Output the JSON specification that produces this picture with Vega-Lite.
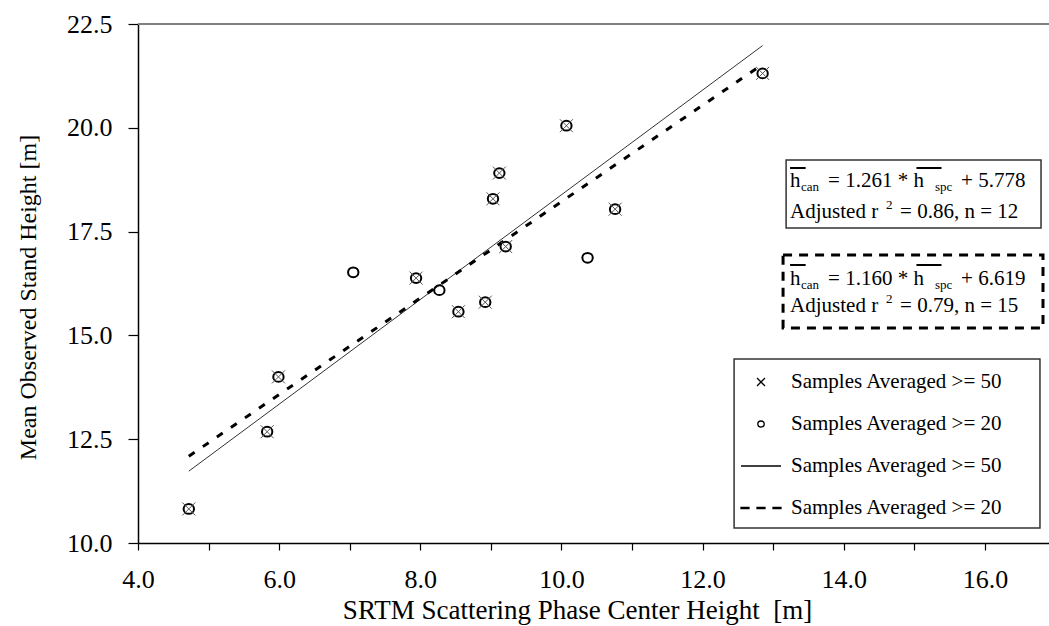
{
"$schema": "https://vega.github.io/schema/vega-lite/v6.json",
"width": 911, "height": 519,
"autosize": {"type": "none"},
"padding": {"left": 138, "top": 24, "right": 0, "bottom": 83},
"background": "white",
"config": {
  "view": {"stroke": null},
  "font": "Liberation Serif",
  "text": {"font": "Liberation Serif"},
  "axis": {"grid": false, "domainColor": "black", "tickColor": "black", "labelColor": "black", "titleColor": "black", "labelFont": "Liberation Serif", "titleFont": "Liberation Serif", "titleFontWeight": "normal"}
},
"datasets": {
  "points": [
    {"x": 4.72, "y": 10.82, "n50": true},
    {"x": 5.83, "y": 12.68, "n50": true},
    {"x": 5.99, "y": 14.0, "n50": true},
    {"x": 7.05, "y": 16.52, "n50": false},
    {"x": 7.94, "y": 16.38, "n50": true},
    {"x": 8.27, "y": 16.09, "n50": false},
    {"x": 8.54, "y": 15.57, "n50": true},
    {"x": 8.92, "y": 15.8, "n50": true},
    {"x": 9.03, "y": 18.29, "n50": true},
    {"x": 9.12, "y": 18.91, "n50": true},
    {"x": 9.21, "y": 17.14, "n50": true},
    {"x": 10.07, "y": 20.05, "n50": true},
    {"x": 10.37, "y": 16.87, "n50": false},
    {"x": 10.76, "y": 18.04, "n50": true},
    {"x": 12.85, "y": 21.31, "n50": true}
  ],
  "fits": [
    {"x": 4.72, "y": 11.73, "fit": "n50"},
    {"x": 12.85, "y": 21.98, "fit": "n50"},
    {"x": 4.72, "y": 12.09, "fit": "n20"},
    {"x": 12.85, "y": 21.53, "fit": "n20"}
  ]
},
"layer": [
  {
    "data": {"name": "fits"},
    "transform": [{"filter": "datum.fit == 'n50'"}],
    "mark": {"type": "line", "color": "#333333", "strokeWidth": 1},
    "encoding": {
      "x": {"field": "x", "type": "quantitative", "scale": {"domain": [4, 16.908], "zero": false, "nice": false},
        "axis": {"title": "SRTM Scattering Phase Center Height \u00a0[m]", "values": [4,4.5,5,5.5,6,6.5,7,7.5,8,8.5,9,9.5,10,10.5,11,11.5,12,12.5,13,13.5,14,14.5,15,15.5,16,16.5],
          "labelExpr": "datum.value % 2 == 0 ? format(datum.value, '.1f') : ''", "tickSize": 7, "tickWidth": 1.2, "labelPadding": 16, "labelFontSize": 26, "titleFontSize": 27, "titleX": 439, "titleY": 75, "titleBaseline": "alphabetic", "domainWidth": 1.5, "labelFlush": false, "labelOverlap": false}},
      "y": {"field": "y", "type": "quantitative", "scale": {"domain": [10, 22.5], "zero": false, "nice": false},
        "axis": {"title": "Mean Observed Stand Height [m]", "values": [10, 12.5, 15, 17.5, 20, 22.5], "format": ".1f", "tickSize": 10, "tickWidth": 1.2, "labelPadding": 16, "labelFontSize": 26, "titleFontSize": 24, "titleX": -110, "titleY": 273, "titleAngle": 270, "titleAlign": "center", "titleBaseline": "middle", "domainWidth": 1.5, "labelFlush": false, "labelOverlap": false}}
    }
  },
  {
    "data": {"name": "fits"},
    "transform": [{"filter": "datum.fit == 'n20'"}],
    "mark": {"type": "line", "color": "black", "strokeWidth": 3, "strokeDash": [7, 10]},
    "encoding": {
      "x": {"field": "x", "type": "quantitative"},
      "y": {"field": "y", "type": "quantitative"}
    }
  },
  {
    "data": {"name": "points"},
    "mark": {"type": "point", "filled": false, "size": 4225, "strokeWidth": 2, "color": "black", "opacity": 1},
    "encoding": {
      "x": {"field": "x", "type": "quantitative"},
      "y": {"field": "y", "type": "quantitative"},
      "shape": {"datum": "c20", "type": "nominal",
        "scale": {"domain": ["c50", "c20", "l50", "l20"],
          "range": ["M-0.2,-0.2L0.2,0.2M-0.2,0.2L0.2,-0.2", "M0.16,0A0.16,0.15,0,1,1,-0.16,0A0.16,0.15,0,1,1,0.16,0Z", "M-1,0L1,0", "M-1,-0.03H-0.6V0.03H-1Z M-0.2,-0.03H0.2V0.03H-0.2Z M0.6,-0.03H1V0.03H0.6Z"]},
        "legend": {"orient": "none", "legendX": 602, "legendY": 337, "title": null, "symbolSize": 1600, "symbolStrokeWidth": 1.3, "symbolStrokeColor": "black", "symbolFillColor": "transparent", "symbolOpacity": 1,
          "labelFont": "Liberation Serif", "labelFontSize": 21, "labelColor": "black", "labelOffset": 9, "labelLimit": 0, "rowPadding": 11, "padding": 0,
          "labelExpr": "(datum.value == 'c50' || datum.value == 'l50') ? 'Samples Averaged >= 50' : 'Samples Averaged >= 20'"}}
    }
  },
  {
    "data": {"name": "points"},
    "transform": [{"filter": "datum.n50"}],
    "mark": {"type": "point", "filled": false, "size": 4225, "strokeWidth": 1, "color": "#555555", "opacity": 1},
    "encoding": {
      "x": {"field": "x", "type": "quantitative"},
      "y": {"field": "y", "type": "quantitative"},
      "shape": {"datum": "c50", "type": "nominal"}
    }
  },
  {
    "data": {"values": [{}]},
    "layer": [
      {"mark": {"type": "rule", "color": "#808080", "strokeWidth": 2}, "encoding": {"y": {"datum": 22.5, "type": "quantitative"}}},
      {"mark": {"type": "rect", "fill": "transparent", "stroke": "#333333", "strokeWidth": 1.5},
        "encoding": {"x": {"datum": 12.446, "type": "quantitative"}, "x2": {"datum": 16.78}, "y": {"datum": 14.432, "type": "quantitative"}, "y2": {"datum": 10.361}}},
      {"mark": {"type": "rect", "fill": "transparent", "stroke": "#333333", "strokeWidth": 1.5},
        "encoding": {"x": {"datum": 13.183, "type": "quantitative"}, "x2": {"datum": 16.795}, "y": {"datum": 19.224, "type": "quantitative"}, "y2": {"datum": 17.587}}},
      {"mark": {"type": "rect", "fill": "transparent", "stroke": "black", "strokeWidth": 3, "strokeDash": [9, 7]},
        "encoding": {"x": {"datum": 13.14, "type": "quantitative"}, "x2": {"datum": 16.823}, "y": {"datum": 16.936, "type": "quantitative"}, "y2": {"datum": 15.178}}},
      {"mark": {"type": "rule", "color": "black", "strokeWidth": 2},
        "encoding": {"x": {"datum": 13.239, "type": "quantitative"}, "x2": {"datum": 13.46}, "y": {"datum": 19.032, "type": "quantitative"}}},
      {"mark": {"type": "rule", "color": "black", "strokeWidth": 2},
        "encoding": {"x": {"datum": 15.03, "type": "quantitative"}, "x2": {"datum": 15.385}, "y": {"datum": 19.032, "type": "quantitative"}}},
      {"mark": {"type": "rule", "color": "black", "strokeWidth": 2},
        "encoding": {"x": {"datum": 13.239, "type": "quantitative"}, "x2": {"datum": 13.46}, "y": {"datum": 16.696, "type": "quantitative"}}},
      {"mark": {"type": "rule", "color": "black", "strokeWidth": 2},
        "encoding": {"x": {"datum": 15.03, "type": "quantitative"}, "x2": {"datum": 15.385}, "y": {"datum": 16.696, "type": "quantitative"}}},
      {"mark": {"type": "text", "text": "h", "align": "left", "baseline": "alphabetic", "fontSize": 21, "color": "black"},
        "encoding": {"x": {"datum": 13.239, "type": "quantitative"}, "y": {"datum": 18.574, "type": "quantitative"}}},
      {"mark": {"type": "text", "text": "can", "align": "left", "baseline": "alphabetic", "fontSize": 13, "dx": 11, "dy": 4, "color": "black"},
        "encoding": {"x": {"datum": 13.239, "type": "quantitative"}, "y": {"datum": 18.574, "type": "quantitative"}}},
      {"mark": {"type": "text", "text": "= 1.261 * h", "align": "left", "baseline": "alphabetic", "fontSize": 21, "dx": 38, "color": "black"},
        "encoding": {"x": {"datum": 13.239, "type": "quantitative"}, "y": {"datum": 18.574, "type": "quantitative"}}},
      {"mark": {"type": "text", "text": "spc", "align": "left", "baseline": "alphabetic", "fontSize": 13, "dx": 145, "dy": 4, "color": "black"},
        "encoding": {"x": {"datum": 13.239, "type": "quantitative"}, "y": {"datum": 18.574, "type": "quantitative"}}},
      {"mark": {"type": "text", "text": "+ 5.778", "align": "left", "baseline": "alphabetic", "fontSize": 21, "dx": 171, "color": "black"},
        "encoding": {"x": {"datum": 13.239, "type": "quantitative"}, "y": {"datum": 18.574, "type": "quantitative"}}},
      {"mark": {"type": "text", "text": "Adjusted r", "align": "left", "baseline": "alphabetic", "fontSize": 21, "color": "black"},
        "encoding": {"x": {"datum": 13.239, "type": "quantitative"}, "y": {"datum": 17.828, "type": "quantitative"}}},
      {"mark": {"type": "text", "text": "2", "align": "left", "baseline": "alphabetic", "fontSize": 13, "dx": 96, "dy": -9, "color": "black"},
        "encoding": {"x": {"datum": 13.239, "type": "quantitative"}, "y": {"datum": 17.828, "type": "quantitative"}}},
      {"mark": {"type": "text", "text": "= 0.86, n = 12", "align": "left", "baseline": "alphabetic", "fontSize": 21, "dx": 110, "color": "black"},
        "encoding": {"x": {"datum": 13.239, "type": "quantitative"}, "y": {"datum": 17.828, "type": "quantitative"}}},
      {"mark": {"type": "text", "text": "h", "align": "left", "baseline": "alphabetic", "fontSize": 21, "color": "black"},
        "encoding": {"x": {"datum": 13.239, "type": "quantitative"}, "y": {"datum": 16.214, "type": "quantitative"}}},
      {"mark": {"type": "text", "text": "can", "align": "left", "baseline": "alphabetic", "fontSize": 13, "dx": 11, "dy": 4, "color": "black"},
        "encoding": {"x": {"datum": 13.239, "type": "quantitative"}, "y": {"datum": 16.214, "type": "quantitative"}}},
      {"mark": {"type": "text", "text": "= 1.160 * h", "align": "left", "baseline": "alphabetic", "fontSize": 21, "dx": 38, "color": "black"},
        "encoding": {"x": {"datum": 13.239, "type": "quantitative"}, "y": {"datum": 16.214, "type": "quantitative"}}},
      {"mark": {"type": "text", "text": "spc", "align": "left", "baseline": "alphabetic", "fontSize": 13, "dx": 145, "dy": 4, "color": "black"},
        "encoding": {"x": {"datum": 13.239, "type": "quantitative"}, "y": {"datum": 16.214, "type": "quantitative"}}},
      {"mark": {"type": "text", "text": "+ 6.619", "align": "left", "baseline": "alphabetic", "fontSize": 21, "dx": 171, "color": "black"},
        "encoding": {"x": {"datum": 13.239, "type": "quantitative"}, "y": {"datum": 16.214, "type": "quantitative"}}},
      {"mark": {"type": "text", "text": "Adjusted r", "align": "left", "baseline": "alphabetic", "fontSize": 21, "color": "black"},
        "encoding": {"x": {"datum": 13.239, "type": "quantitative"}, "y": {"datum": 15.564, "type": "quantitative"}}},
      {"mark": {"type": "text", "text": "2", "align": "left", "baseline": "alphabetic", "fontSize": 13, "dx": 96, "dy": -9, "color": "black"},
        "encoding": {"x": {"datum": 13.239, "type": "quantitative"}, "y": {"datum": 15.564, "type": "quantitative"}}},
      {"mark": {"type": "text", "text": "= 0.79, n = 15", "align": "left", "baseline": "alphabetic", "fontSize": 21, "dx": 110, "color": "black"},
        "encoding": {"x": {"datum": 13.239, "type": "quantitative"}, "y": {"datum": 15.564, "type": "quantitative"}}}
    ]
  }
]
}
